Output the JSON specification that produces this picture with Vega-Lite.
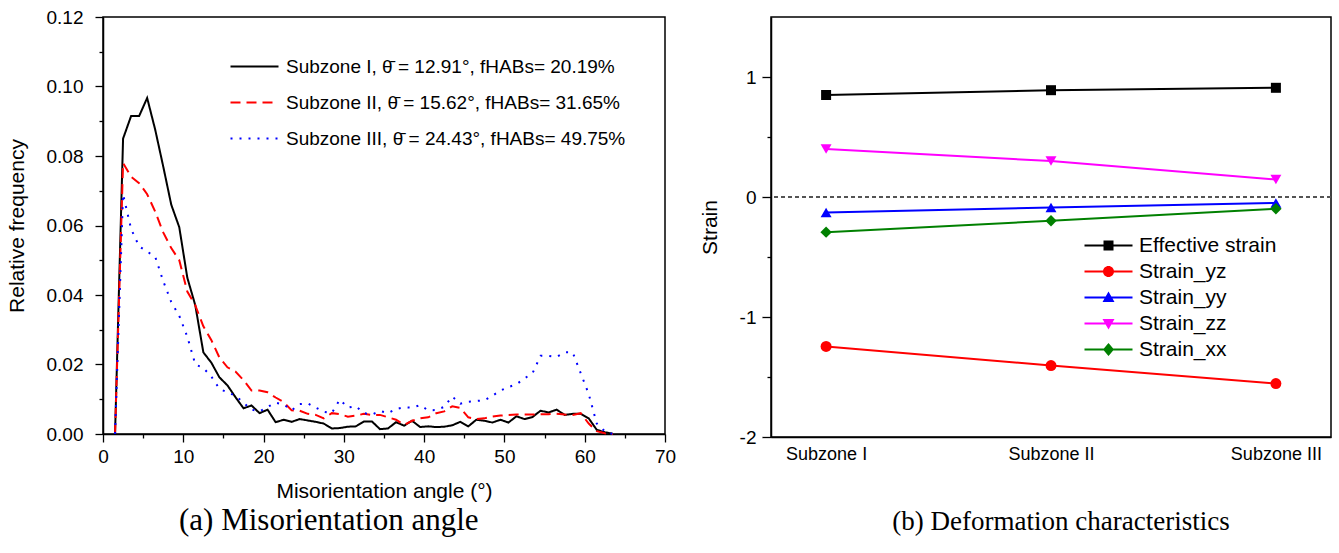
{
  "$schema": "https://vega.github.io/schema/vega-lite/v6.json",
  "background": "white",
  "padding": {"left": 5, "top": 7, "right": 10, "bottom": 0},
  "spacing": 21,
  "resolve": {"scale": {"color": "independent", "stroke": "independent", "strokeDash": "independent", "shape": "independent"}},
  "config": {
    "font": "Liberation Sans",
    "view": {"stroke": "black", "strokeWidth": 1.5},
    "axis": {
      "grid": false,
      "domainColor": "black",
      "domainWidth": 1.5,
      "tickColor": "black",
      "tickWidth": 1.3,
      "labelColor": "black",
      "labelFont": "Liberation Sans",
      "labelFontSize": 19,
      "labelOverlap": false,
      "labelFlush": false,
      "titleColor": "black",
      "titleFont": "Liberation Sans",
      "titleFontSize": 21,
      "titleFontWeight": "normal"
    },
    "legend": {"labelFont": "Liberation Sans", "labelFontSize": 19, "labelColor": "black", "labelLimit": 0},
    "title": {"font": "Liberation Serif", "fontWeight": "normal", "color": "black"}
  },
  "hconcat": [
    {
      "width": 562,
      "height": 417,
      "title": {"text": "(a) Misorientation angle", "orient": "bottom", "anchor": "middle", "frame": "bounds", "offset": 5, "dx": -12, "fontSize": 31},
      "data": {
        "values": [
          {"angle": 1.5, "I": 0, "II": 0, "III": 0},
          {"angle": 2.5, "I": 0.085, "II": 0.078, "III": 0.069},
          {"angle": 3.5, "I": 0.0915, "II": 0.074, "III": 0.059},
          {"angle": 4.5, "I": 0.0915, "II": 0.0722, "III": 0.054},
          {"angle": 5.5, "I": 0.0967, "II": 0.069, "III": 0.0525},
          {"angle": 6.5, "I": 0.0876, "II": 0.064, "III": 0.051},
          {"angle": 7.5, "I": 0.077, "II": 0.058, "III": 0.044},
          {"angle": 8.5, "I": 0.066, "II": 0.0535, "III": 0.038},
          {"angle": 9.5, "I": 0.0595, "II": 0.05, "III": 0.034},
          {"angle": 10.5, "I": 0.045, "II": 0.041, "III": 0.028},
          {"angle": 11.5, "I": 0.037, "II": 0.037, "III": 0.02},
          {"angle": 12.5, "I": 0.0235, "II": 0.031, "III": 0.019},
          {"angle": 13.5, "I": 0.0205, "II": 0.027, "III": 0.0165},
          {"angle": 14.5, "I": 0.0163, "II": 0.022, "III": 0.013},
          {"angle": 15.5, "I": 0.014, "II": 0.0192, "III": 0.012},
          {"angle": 16.5, "I": 0.0106, "II": 0.018, "III": 0.011},
          {"angle": 17.5, "I": 0.0074, "II": 0.0155, "III": 0.009},
          {"angle": 18.5, "I": 0.0082, "II": 0.0125, "III": 0.007},
          {"angle": 19.5, "I": 0.006, "II": 0.0125, "III": 0.0065},
          {"angle": 20.5, "I": 0.007, "II": 0.012, "III": 0.0078},
          {"angle": 21.5, "I": 0.0034, "II": 0.0105, "III": 0.009},
          {"angle": 22.5, "I": 0.0041, "II": 0.0092, "III": 0.0085},
          {"angle": 23.5, "I": 0.0035, "II": 0.0068, "III": 0.0068},
          {"angle": 24.5, "I": 0.0043, "II": 0.0067, "III": 0.0086},
          {"angle": 25.5, "I": 0.0039, "II": 0.0058, "III": 0.0088},
          {"angle": 26.5, "I": 0.0035, "II": 0.0055, "III": 0.0076},
          {"angle": 27.5, "I": 0.003, "II": 0.0045, "III": 0.0064},
          {"angle": 28.5, "I": 0.0016, "II": 0.006, "III": 0.006},
          {"angle": 29.5, "I": 0.0017, "II": 0.0057, "III": 0.0099},
          {"angle": 30.5, "I": 0.0021, "II": 0.005, "III": 0.0076},
          {"angle": 31.5, "I": 0.0022, "II": 0.0053, "III": 0.008},
          {"angle": 32.5, "I": 0.0036, "II": 0.0058, "III": 0.006},
          {"angle": 33.5, "I": 0.0036, "II": 0.0055, "III": 0.0056},
          {"angle": 34.5, "I": 0.0014, "II": 0.0055, "III": 0.0066},
          {"angle": 35.5, "I": 0.0016, "II": 0.0048, "III": 0.006},
          {"angle": 36.5, "I": 0.0034, "II": 0.0041, "III": 0.0072},
          {"angle": 37.5, "I": 0.0024, "II": 0.0026, "III": 0.0077},
          {"angle": 38.5, "I": 0.0038, "II": 0.0038, "III": 0.0076},
          {"angle": 39.5, "I": 0.002, "II": 0.0045, "III": 0.0083},
          {"angle": 40.5, "I": 0.0022, "II": 0.0048, "III": 0.0068},
          {"angle": 41.5, "I": 0.002, "II": 0.006, "III": 0.0069},
          {"angle": 42.5, "I": 0.0021, "II": 0.0065, "III": 0.0078},
          {"angle": 43.5, "I": 0.0025, "II": 0.008, "III": 0.0108},
          {"angle": 44.5, "I": 0.0035, "II": 0.0075, "III": 0.0087},
          {"angle": 45.5, "I": 0.0022, "II": 0.0048, "III": 0.0093},
          {"angle": 46.5, "I": 0.0041, "II": 0.0043, "III": 0.0095},
          {"angle": 47.5, "I": 0.0038, "II": 0.0045, "III": 0.0097},
          {"angle": 48.5, "I": 0.0033, "II": 0.005, "III": 0.011},
          {"angle": 49.5, "I": 0.0041, "II": 0.0053, "III": 0.0125},
          {"angle": 50.5, "I": 0.0033, "II": 0.0055, "III": 0.0135},
          {"angle": 51.5, "I": 0.0051, "II": 0.0056, "III": 0.0143},
          {"angle": 52.5, "I": 0.0043, "II": 0.0056, "III": 0.016},
          {"angle": 53.5, "I": 0.0049, "II": 0.0056, "III": 0.0175},
          {"angle": 54.5, "I": 0.0067, "II": 0.0057, "III": 0.0225},
          {"angle": 55.5, "I": 0.0062, "II": 0.0057, "III": 0.0225},
          {"angle": 56.5, "I": 0.007, "II": 0.0058, "III": 0.0222},
          {"angle": 57.5, "I": 0.0055, "II": 0.0056, "III": 0.0235},
          {"angle": 58.5, "I": 0.0058, "II": 0.0055, "III": 0.0235},
          {"angle": 59.5, "I": 0.0058, "II": 0.006, "III": 0.0175},
          {"angle": 60.5, "I": 0.0045, "II": 0.003, "III": 0.0115},
          {"angle": 61.5, "I": 0.0012, "II": 0.0008, "III": 0.003},
          {"angle": 62.5, "I": 0.0005, "II": 0.0002, "III": 0.0008},
          {"angle": 63.5, "I": 0.0001, "II": 0, "III": 0}
        ]
      },
      "transform": [{"fold": ["I", "II", "III"], "as": ["zone", "freq"]}],
      "mark": {"type": "line", "strokeWidth": 2},
      "encoding": {
        "x": {
          "field": "angle",
          "type": "quantitative",
          "scale": {"domain": [0, 70], "nice": false, "zero": false},
          "axis": {
            "title": "Misorientation angle (°)",
            "values": [0, 5, 10, 15, 20, 25, 30, 35, 40, 45, 50, 55, 60, 65, 70],
            "labelExpr": "datum.value % 10 === 0 ? datum.label : ''",
            "tickSize": {"condition": {"test": "datum.value % 10 !== 0", "value": 4}, "value": 8},
            "labelPadding": 5,
            "titlePadding": 14
          }
        },
        "y": {
          "field": "freq",
          "type": "quantitative",
          "scale": {"domain": [0, 0.12], "nice": false},
          "axis": {
            "title": "Relative frequency",
            "values": [0, 0.01, 0.02, 0.03, 0.04, 0.05, 0.06, 0.07, 0.08, 0.09, 0.1, 0.11, 0.12],
            "format": ".2f",
            "labelExpr": "round(datum.value * 100) % 2 === 0 ? datum.label : ''",
            "tickSize": {"condition": {"test": "round(datum.value * 100) % 2 !== 0", "value": 4}, "value": 8},
            "labelPadding": 12,
            "titlePadding": 19
          }
        },
        "color": {
          "field": "zone",
          "type": "nominal",
          "scale": {"domain": ["I", "II", "III"], "range": ["#000000", "#ff0000", "#0000ff"]},
          "legend": {
            "orient": "none",
            "legendX": 142,
            "legendY": 40,
            "title": null,
            "padding": 0,
            "symbolType": "M-4.8,0H4.8",
            "symbolSize": 100,
            "symbolStrokeWidth": 2,
            "labelOffset": 22,
            "rowPadding": 16,
            "labelExpr": "datum.label === 'I' ? 'Subzone I, θ̄ = 12.91°, fHABs= 20.19%' : datum.label === 'II' ? 'Subzone II, θ̄ = 15.62°, fHABs= 31.65%' : 'Subzone III, θ̄ = 24.43°, fHABs= 49.75%'"
          }
        },
        "strokeDash": {
          "field": "zone",
          "type": "nominal",
          "scale": {"domain": ["I", "II", "III"], "range": [[1, 0], [10, 6], [2, 7]]},
          "legend": {
            "orient": "none",
            "legendX": 142,
            "legendY": 40,
            "title": null,
            "padding": 0,
            "symbolType": "M-4.8,0H4.8",
            "symbolSize": 100,
            "symbolStrokeWidth": 2,
            "labelOffset": 22,
            "rowPadding": 16,
            "labelExpr": "datum.label === 'I' ? 'Subzone I, θ̄ = 12.91°, fHABs= 20.19%' : datum.label === 'II' ? 'Subzone II, θ̄ = 15.62°, fHABs= 31.65%' : 'Subzone III, θ̄ = 24.43°, fHABs= 49.75%'"
          }
        }
      }
    },
    {
      "width": 560,
      "height": 420,
      "title": {"text": "(b) Deformation characteristics", "orient": "bottom", "anchor": "middle", "frame": "group", "offset": 46, "dx": 10, "fontSize": 27},
      "data": {
        "values": [
          {"zone": 1, "series": "Effective strain", "strain": 0.85},
          {"zone": 2, "series": "Effective strain", "strain": 0.89},
          {"zone": 3, "series": "Effective strain", "strain": 0.91},
          {"zone": 1, "series": "Strain_yz", "strain": -1.245},
          {"zone": 2, "series": "Strain_yz", "strain": -1.405},
          {"zone": 3, "series": "Strain_yz", "strain": -1.555},
          {"zone": 1, "series": "Strain_yy", "strain": -0.13},
          {"zone": 2, "series": "Strain_yy", "strain": -0.088},
          {"zone": 3, "series": "Strain_yy", "strain": -0.05},
          {"zone": 1, "series": "Strain_zz", "strain": 0.4},
          {"zone": 2, "series": "Strain_zz", "strain": 0.3},
          {"zone": 3, "series": "Strain_zz", "strain": 0.145},
          {"zone": 1, "series": "Strain_xx", "strain": -0.293},
          {"zone": 2, "series": "Strain_xx", "strain": -0.198},
          {"zone": 3, "series": "Strain_xx", "strain": -0.098}
        ]
      },
      "resolve": {"scale": {"color": "independent", "shape": "independent"}},
      "layer": [
        {
          "mark": {"type": "line", "strokeWidth": 2},
          "encoding": {
            "x": {
              "field": "zone",
              "type": "quantitative",
              "scale": {"domain": [0.755, 3.245], "nice": false, "zero": false},
              "axis": {
                "title": null,
                "values": [1, 2, 3],
                "ticks": false,
                "labelPadding": 8,
                "labelFontSize": 18,
                "labelExpr": "datum.value === 1 ? 'Subzone I' : datum.value === 2 ? 'Subzone II' : 'Subzone III'"
              }
            },
            "y": {
              "field": "strain",
              "type": "quantitative",
              "scale": {"domain": [-2, 1.5], "nice": false},
              "axis": {
                "title": "Strain",
                "values": [-2, -1.5, -1, -0.5, 0, 0.5, 1],
                "labelExpr": "datum.value % 1 === 0 ? '' + datum.value : ''",
                "tickSize": {"condition": {"test": "datum.value % 1 !== 0", "value": 4}, "value": 9},
                "labelPadding": 6,
                "titlePadding": 19
              }
            },
            "stroke": {
              "field": "series",
              "type": "nominal",
              "scale": {
                "domain": ["Effective strain", "Strain_yz", "Strain_yy", "Strain_zz", "Strain_xx"],
                "range": ["#000000", "#ff0000", "#0000ff", "#ff00ff", "#008000"]
              },
              "legend": null
            }
          }
        },
        {
          "mark": {"type": "rule", "color": "#555555", "strokeDash": [4, 3], "strokeWidth": 1},
          "encoding": {"y": {"datum": 0, "type": "quantitative"}}
        },
        {
          "transform": [{"filter": {"field": "series", "equal": "Effective strain"}}],
          "mark": {"type": "point", "shape": "square", "filled": true, "size": 100, "opacity": 1, "color": "#000000"},
          "encoding": {
            "x": {"field": "zone", "type": "quantitative"},
            "y": {"field": "strain", "type": "quantitative"}
          }
        },
        {
          "transform": [{"filter": {"field": "series", "equal": "Strain_yz"}}],
          "mark": {"type": "point", "shape": "circle", "filled": true, "size": 120, "opacity": 1, "color": "#ff0000"},
          "encoding": {
            "x": {"field": "zone", "type": "quantitative"},
            "y": {"field": "strain", "type": "quantitative"}
          }
        },
        {
          "transform": [{"filter": {"field": "series", "equal": "Strain_yy"}}],
          "mark": {"type": "point", "shape": "triangle-up", "filled": true, "size": 120, "opacity": 1, "color": "#0000ff"},
          "encoding": {
            "x": {"field": "zone", "type": "quantitative"},
            "y": {"field": "strain", "type": "quantitative"}
          }
        },
        {
          "transform": [{"filter": {"field": "series", "equal": "Strain_zz"}}],
          "mark": {"type": "point", "shape": "triangle-down", "filled": true, "size": 120, "opacity": 1, "color": "#ff00ff"},
          "encoding": {
            "x": {"field": "zone", "type": "quantitative"},
            "y": {"field": "strain", "type": "quantitative"}
          }
        },
        {
          "transform": [{"filter": {"field": "series", "equal": "Strain_xx"}}],
          "mark": {"type": "point", "shape": "diamond", "filled": true, "size": 130, "opacity": 1, "color": "#008000"},
          "encoding": {
            "x": {"field": "zone", "type": "quantitative"},
            "y": {"field": "strain", "type": "quantitative"}
          }
        },
        {
          "data": {
            "values": [
              {"series": "Effective strain"},
              {"series": "Strain_yz"},
              {"series": "Strain_yy"},
              {"series": "Strain_zz"},
              {"series": "Strain_xx"}
            ]
          },
          "mark": {"type": "point", "filled": true, "opacity": 1},
          "encoding": {
            "x": {"field": "zone", "type": "quantitative"},
            "y": {"field": "strain", "type": "quantitative"},
            "color": {
              "field": "series",
              "type": "nominal",
              "scale": {
                "domain": ["Effective strain", "Strain_yz", "Strain_yy", "Strain_zz", "Strain_xx"],
                "range": ["#000000", "#ff0000", "#0000ff", "#ff00ff", "#008000"]
              },
              "legend": {
                "orient": "none", "legendX": 327, "legendY": 218, "title": null, "padding": 0,
                "symbolSize": 100, "labelOffset": 20, "rowPadding": 4, "labelFontSize": 21
              }
            },
            "shape": {
              "field": "series",
              "type": "nominal",
              "scale": {
                "domain": ["Effective strain", "Strain_yz", "Strain_yy", "Strain_zz", "Strain_xx"],
                "range": [
                  "M-4.8,-0.2H4.8V0.2H-4.8ZM-1,-1H1V1H-1Z",
                  "M-4.8,-0.2H4.8V0.2H-4.8ZM1.1,0A1.1,1.1,0,1,1,-1.1,0A1.1,1.1,0,1,1,1.1,0Z",
                  "M-4.8,-0.2H4.8V0.2H-4.8ZM0,-1.2L1.2,0.9H-1.2Z",
                  "M-4.8,-0.2H4.8V0.2H-4.8ZM0,1.2L-1.2,-0.9H1.2Z",
                  "M-4.8,-0.2H4.8V0.2H-4.8ZM0,-1.3L1.1,0L0,1.3L-1.1,0Z"
                ]
              },
              "legend": {
                "orient": "none", "legendX": 327, "legendY": 218, "title": null, "padding": 0,
                "symbolSize": 100, "labelOffset": 20, "rowPadding": 4, "labelFontSize": 21
              }
            }
          }
        }
      ]
    }
  ]
}
